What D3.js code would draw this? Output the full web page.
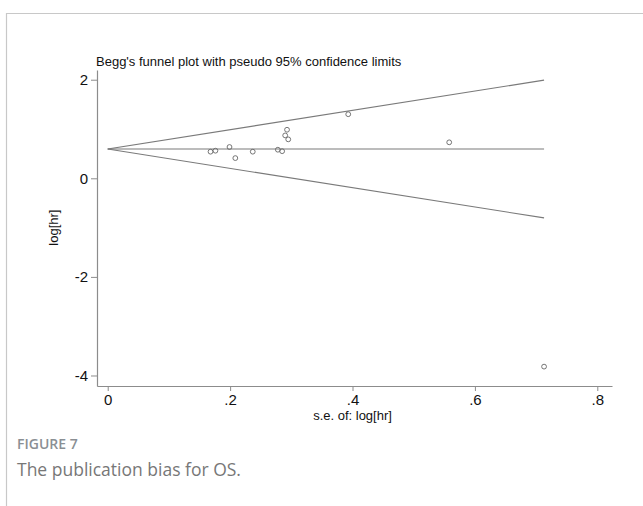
<!DOCTYPE html>
<html>
<head>
<meta charset="utf-8">
<script src="https://cdn.jsdelivr.net/npm/d3@7"></script>
<style>
  body { margin: 0; background: #fff; }
  svg { display: block; }
</style>
</head>
<body>
<svg width="643" height="506"></svg>
<script>
// study estimates: standard error and log hazard ratio
const seVals = [0.168, 0.176, 0.199, 0.2085, 0.237, 0.278, 0.285, 0.290, 0.293, 0.295, 0.393, 0.558, 0.713];
const logHr  = [0.54, 0.56, 0.635, 0.41, 0.54, 0.58, 0.55, 0.87, 0.985, 0.79, 1.30, 0.73, -3.82];
const pooled = 0.594;
const xTicks = [0, 0.2, 0.4, 0.6, 0.8];
const yTicks = [-4, -2, 0, 2];

const svg = d3.select("svg");
const axisColor = "#8c8c8c";
const lineColor = "#7a7a7a";
const font = "Liberation Sans, Arial, sans-serif";

// figure frame (left + top border)
svg.append("path")
  .attr("d", "M6.5,506 V13.5 H643")
  .attr("fill", "none")
  .attr("stroke", "#c8c8c8")
  .attr("stroke-width", 1.2);

const x = d3.scaleLinear().domain([-0.0175, 0.824]).range([97, 612]);
const y = d3.scaleLinear().domain([-4.213, 2.197]).range([386, 70]);

const fmt = d => d === 0 ? "0" : d3.format(".1f")(d).replace(/^0\./, ".");

const xAxis = svg.append("g")
  .attr("transform", "translate(0,386)")
  .call(d3.axisBottom(x).tickValues(xTicks).tickFormat(fmt).tickSizeInner(5).tickSizeOuter(0));
const yAxis = svg.append("g")
  .attr("transform", "translate(97,0)")
  .call(d3.axisLeft(y).tickValues(yTicks).tickFormat(d => String(d)).tickSizeInner(6).tickSizeOuter(0));

[xAxis, yAxis].forEach(g => {
  g.attr("font-size", null).attr("font-family", null);
  g.select(".domain").attr("stroke", axisColor).attr("stroke-width", 1.2);
  g.selectAll(".tick line").attr("stroke", axisColor);
  g.selectAll(".tick text")
    .attr("fill", "#111")
    .style("font-family", font)
    .style("font-size", "15px");
});
xAxis.selectAll(".tick text").attr("dy", "0.85em").attr("y", 6);
yAxis.selectAll(".tick text").attr("x", -9);

// funnel: pseudo 95% limits and pooled line
const seMax = d3.max(seVals);
const funnel = [
  [[0, pooled], [seMax, pooled + 1.96 * seMax]],
  [[0, pooled], [seMax, pooled - 1.96 * seMax]],
  [[0, pooled], [seMax, pooled]]
];
svg.append("g")
  .selectAll("path")
  .data(funnel)
  .join("path")
  .attr("d", d3.line().x(d => x(d[0])).y(d => y(d[1])))
  .attr("fill", "none")
  .attr("stroke", lineColor)
  .attr("stroke-width", 1.1);

// study points
svg.append("g")
  .selectAll("circle")
  .data(seVals.map((s, i) => [s, logHr[i]]))
  .join("circle")
  .attr("cx", d => x(d[0]))
  .attr("cy", d => y(d[1]))
  .attr("r", 2.4)
  .attr("fill", "none")
  .attr("stroke", "#666")
  .attr("stroke-width", 0.9);

// titles
svg.append("text")
  .attr("x", 96).attr("y", 66)
  .text("Begg's funnel plot with pseudo 95% confidence limits")
  .style("font-family", font)
  .style("font-size", "13px")
  .attr("fill", "#111");

svg.append("text")
  .attr("x", x(0.4)).attr("y", 420)
  .attr("text-anchor", "middle")
  .text("s.e. of: log[hr]")
  .style("font-family", font)
  .style("font-size", "13px")
  .attr("fill", "#111");

svg.append("text")
  .attr("transform", "translate(58," + y(-1) + ") rotate(-90)")
  .attr("text-anchor", "middle")
  .text("log[hr]")
  .style("font-family", font)
  .style("font-size", "13px")
  .attr("fill", "#111");

// caption
svg.append("text")
  .attr("x", 17).attr("y", 449)
  .text("FIGURE 7")
  .style("font-family", "Open Sans, sans-serif")
  .style("font-size", "14px")
  .style("font-weight", "600")
  .attr("fill", "#8a8f94");

svg.append("text")
  .attr("x", 17).attr("y", 476)
  .text("The publication bias for OS.")
  .style("font-family", "Open Sans, sans-serif")
  .style("font-size", "17.5px")
  .attr("fill", "#777");
</script>
</body>
</html>
